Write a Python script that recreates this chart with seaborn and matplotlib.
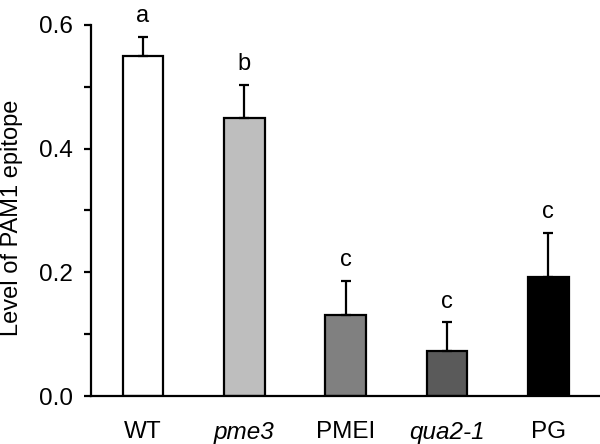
import numpy as np
import pandas as pd
import matplotlib
matplotlib.use("Agg")
import matplotlib.pyplot as plt
from matplotlib.ticker import MultipleLocator
import seaborn as sns

# data
genotypes = ["WT", "pme3", "PMEI", "qua2-1", "PG"]
pam1_level = [0.550, 0.450, 0.131, 0.073, 0.192]
pam1_err = [0.031, 0.053, 0.055, 0.046, 0.072]
letters = ["a", "b", "c", "c", "c"]
bar_colors = ["#ffffff", "#bebebe", "#808080", "#5a5a5a", "#000000"]

sns.set_style("ticks", {"axes.edgecolor": "black", "text.color": "black",
                        "xtick.color": "black", "ytick.color": "black",
                        "axes.labelcolor": "black"})
plt.rcParams["font.family"] = ["Liberation Sans", "DejaVu Sans"]

df = pd.DataFrame({"genotype": genotypes, "level": pam1_level})

fig = plt.figure(figsize=(6, 4.44), dpi=100)
ax = fig.add_axes([0.152, 0.108, 0.848, 0.836])

sns.barplot(data=df, x="genotype", y="level", hue="genotype",
            palette=bar_colors, edgecolor="black", linewidth=1.6,
            width=0.4, legend=False, ax=ax)

xpos = np.arange(len(genotypes))
ax.errorbar(xpos, pam1_level, yerr=[np.zeros(len(pam1_err)), pam1_err],
            fmt="none", ecolor="black", elinewidth=1.6, capsize=3.8,
            capthick=1.6, zorder=1)

for x, y, e, t in zip(xpos, pam1_level, pam1_err, letters):
    ax.annotate(t, (x, y + e), xytext=(0, 7), textcoords="offset points",
                ha="center", va="bottom", fontsize=17, color="black")

ax.set_xlim(-0.51, 4.51)
ax.set_ylim(0, 0.6)
ax.yaxis.set_major_locator(MultipleLocator(0.2))
ax.yaxis.set_minor_locator(MultipleLocator(0.1))
ax.set_yticks([0.0, 0.2, 0.4, 0.6])
ax.set_yticklabels(["0.0", "0.2", "0.4", "0.6"])
ax.tick_params(axis="y", which="both", length=5, width=1.6, pad=8, labelsize=17.5,
               direction="out", colors="black")
ax.tick_params(axis="x", length=0, pad=18, labelsize=17.5, colors="black")

for lab in ax.get_xticklabels():
    if lab.get_text() in ("pme3", "qua2-1"):
        lab.set_fontstyle("italic")

ax.set_xlabel("")
ax.set_ylabel("Level of PAM1 epitope", fontsize=17, color="black")
ax.yaxis.set_label_coords(-0.135, 0.48)

sns.despine(ax=ax)
ax.spines["left"].set_linewidth(1.6)
ax.spines["bottom"].set_linewidth(1.6)
ax.spines["left"].set_bounds(0, 0.6)

fig.savefig("out.png", dpi=100)
